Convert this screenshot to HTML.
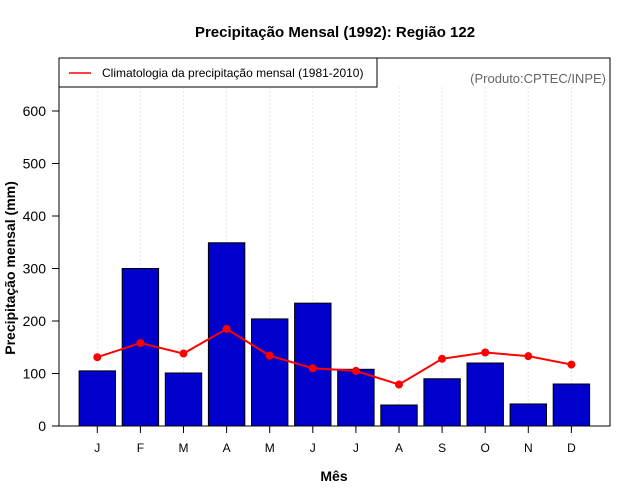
<!DOCTYPE html>
<html><head><meta charset="utf-8"><style>body{margin:0;background:#fff}svg{display:block;font-family:"Liberation Sans",sans-serif}</style></head>
<body>
<svg id="c" width="640" height="500">
<text x="335" y="37" text-anchor="middle" font-weight="bold" font-size="15">Precipitação Mensal (1992): Região 122</text>
<text x="334" y="481" text-anchor="middle" font-weight="bold" font-size="14">Mês</text>
<text transform="translate(15,268) rotate(-90)" text-anchor="middle" font-weight="bold" font-size="14">Precipitação mensal (mm)</text>
<text x="606" y="83" text-anchor="end" font-size="13" fill="#666">(Produto:CPTEC/INPE)</text>
<g id="grid"></g><g id="bars"></g><g id="line"></g><g id="axes"></g>
<rect x="59" y="58" width="551" height="368" fill="none" stroke="#000"/>
<g>
<rect x="59" y="58" width="318" height="29" fill="#fff" stroke="#000"/>
<line x1="69" y1="73" x2="91" y2="73" stroke="red" stroke-width="1.5"/>
<text x="102" y="77" font-size="12">Climatologia da precipitação mensal (1981-2010)</text>
</g>
</svg>
<script>
const months=["J","F","M","A","M","J","J","A","S","O","N","D"];
const precip=[105,300,101,349,204,234,108,40,90,120,42,80];
const clim=[131,158,138,185,134,110,105,79,128,140,133,117];
const yTicks=[0,100,200,300,400,500,600];
const ns="http://www.w3.org/2000/svg";
const X=i=>97.3+i*43.1, Y=v=>426-v*0.525;
function mk(t,a,p){const e=document.createElementNS(ns,t);for(const k in a)e.setAttribute(k,a[k]);document.getElementById(p).appendChild(e);return e;}
months.forEach((m,i)=>{
 const g=mk("line",{x1:X(i),x2:X(i),y1:87,y2:426,stroke:"#e6e6e6","stroke-dasharray":"2,2"},"grid");
 
 
 const b=mk("rect",{x:X(i)-18.2,y:Y(precip[i]),width:36.4,height:426-Y(precip[i]),fill:"#0000cd",stroke:"#000","stroke-width":1},"bars");
 
 
 const tk=mk("line",{x1:X(i),x2:X(i),y1:426,y2:433,stroke:"#000"},"axes");
 
 
 const t=mk("text",{x:X(i),y:452,"text-anchor":"middle","font-size":12},"axes");t.textContent=m;
 
 
});
const pl=mk("polyline",{points:clim.map((v,i)=>X(i)+","+Y(v)).join(" "),fill:"none",stroke:"red","stroke-width":2},"line");


clim.forEach((v,i)=>{const c=mk("circle",{cx:X(i),cy:Y(v),r:4,fill:"red"},"line");
 
 });
yTicks.forEach(v=>{
 const l=mk("line",{x1:52,x2:59,y1:Y(v),y2:Y(v),stroke:"#000"},"axes");
 
 
 const t=mk("text",{x:46,y:Y(v)+5,"text-anchor":"end","font-size":14},"axes");t.textContent=v;
 
 
});
</script>
</body></html>
